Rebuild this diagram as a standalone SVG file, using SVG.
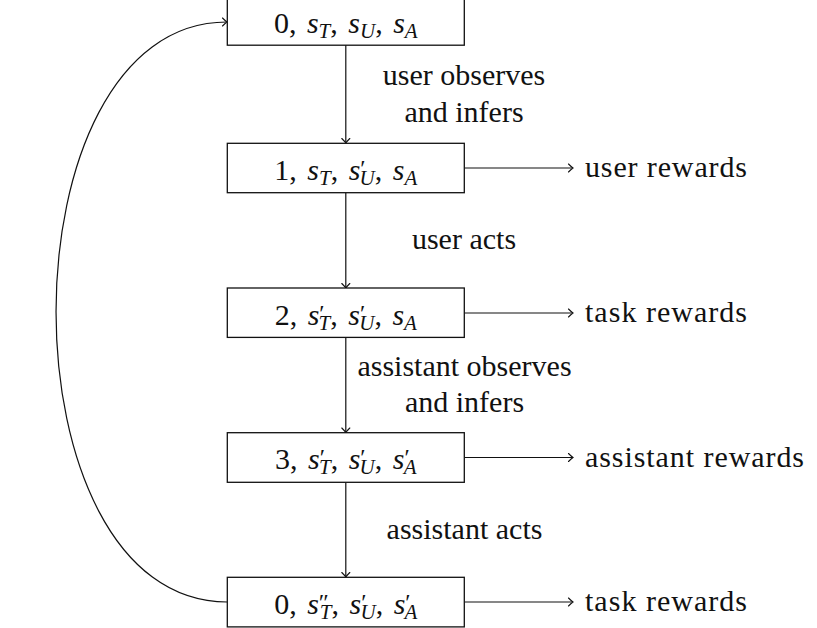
<svg xmlns="http://www.w3.org/2000/svg" width="817" height="628" viewBox="0 0 817 628">
<defs>
<marker id="ah" markerWidth="12" markerHeight="12" viewBox="-6 -6 12 12" refX="0" refY="0" orient="auto" markerUnits="userSpaceOnUse">
<path d="M-4.5,-4 Q-1.5,-1 0,0 Q-1.5,1 -4.5,4" fill="none" stroke="#111" stroke-width="1.1" stroke-linecap="round"/>
</marker>
</defs>
<style>
.box{fill:#fff;stroke:#111;stroke-width:1.3}
.ln{fill:none;stroke:#111;stroke-width:1.2;marker-end:url(#ah)}
text{font-family:"Liberation Serif","Times New Roman",serif;font-size:30px;fill:#111}
.lab{text-anchor:middle}
.m{text-anchor:middle}
.i{font-style:italic}
.sb{font-style:italic;font-size:21px}
.pr{font-size:24px}
</style>
<rect width="817" height="628" fill="#fff"/>
<g id="connectors">
<line class="ln" x1="345.8" y1="45" x2="345.8" y2="143"/>
<line class="ln" x1="345.8" y1="193" x2="345.8" y2="288"/>
<line class="ln" x1="345.8" y1="338" x2="345.8" y2="432.5"/>
<line class="ln" x1="345.8" y1="482.5" x2="345.8" y2="577"/>
<line class="ln" x1="464.5" y1="168" x2="573" y2="168"/>
<line class="ln" x1="464.5" y1="313" x2="573" y2="313"/>
<line class="ln" x1="464.5" y1="457.5" x2="573" y2="457.5"/>
<line class="ln" x1="464.5" y1="602" x2="573" y2="602"/>
<path class="ln" d="M227.3,602 C-1,602 -1,22 227,22"/>
<text class="lab" x="464" y="85">user observes</text>
<text class="lab" x="464" y="122">and infers</text>
<text class="lab" x="464" y="249">user acts</text>
<text class="lab" x="464.5" y="376">assistant observes</text>
<text class="lab" x="464.5" y="412">and infers</text>
<text class="lab" x="464.5" y="539">assistant acts</text>
</g>
<g id="node0">
<rect class="box" x="227.3" y="-1.4" width="237" height="46.6"/>
<text class="m" x="345.8" y="33">0, <tspan class="i" dx="3">s</tspan><tspan class="sb" dy="5">T</tspan><tspan dy="-5">, </tspan><tspan class="i" dx="3">s</tspan><tspan class="sb" dy="5">U</tspan><tspan dy="-5">, </tspan><tspan class="i" dx="3">s</tspan><tspan class="sb" dy="5">A</tspan></text>
</g>
<g id="node1">
<rect class="box" x="227.3" y="143.3" width="237" height="49.4"/>
<text class="m" x="345.8" y="180">1, <tspan class="i" dx="3">s</tspan><tspan class="sb" dy="5">T</tspan><tspan dy="-5">, </tspan><tspan class="i" dx="3">s</tspan><tspan class="pr" dy="-4">′</tspan><tspan class="sb" dx="-6" dy="9">U</tspan><tspan dy="-5">, </tspan><tspan class="i" dx="3">s</tspan><tspan class="sb" dy="5">A</tspan></text>
</g>
<g id="node2">
<rect class="box" x="227.3" y="288" width="237" height="49.4"/>
<text class="m" x="345.8" y="324.5">2, <tspan class="i" dx="3">s</tspan><tspan class="pr" dy="-4">′</tspan><tspan class="sb" dx="-6" dy="9">T</tspan><tspan dy="-5">, </tspan><tspan class="i" dx="3">s</tspan><tspan class="pr" dy="-4">′</tspan><tspan class="sb" dx="-6" dy="9">U</tspan><tspan dy="-5">, </tspan><tspan class="i" dx="3">s</tspan><tspan class="sb" dy="5">A</tspan></text>
</g>
<g id="node3">
<rect class="box" x="227.3" y="432.7" width="237" height="49.6"/>
<text class="m" x="345.8" y="469">3, <tspan class="i" dx="3">s</tspan><tspan class="pr" dy="-4">′</tspan><tspan class="sb" dx="-6" dy="9">T</tspan><tspan dy="-5">, </tspan><tspan class="i" dx="3">s</tspan><tspan class="pr" dy="-4">′</tspan><tspan class="sb" dx="-6" dy="9">U</tspan><tspan dy="-5">, </tspan><tspan class="i" dx="3">s</tspan><tspan class="pr" dy="-4">′</tspan><tspan class="sb" dx="-6" dy="9">A</tspan></text>
</g>
<g id="node4">
<rect class="box" x="227.3" y="577.3" width="237" height="49.6"/>
<text class="m" x="345.8" y="613.5">0, <tspan class="i" dx="3">s</tspan><tspan class="pr" dy="-4">″</tspan><tspan class="sb" dx="-9" dy="9">T</tspan><tspan dy="-5">, </tspan><tspan class="i" dx="3">s</tspan><tspan class="pr" dy="-4">′</tspan><tspan class="sb" dx="-6" dy="9">U</tspan><tspan dy="-5">, </tspan><tspan class="i" dx="3">s</tspan><tspan class="pr" dy="-4">′</tspan><tspan class="sb" dx="-6" dy="9">A</tspan></text>
</g>
<g id="out1"><text x="585" y="177" textLength="162" lengthAdjust="spacing">user rewards</text></g>
<g id="out2"><text x="585" y="322" textLength="162" lengthAdjust="spacing">task rewards</text></g>
<g id="out3"><text x="585" y="466.5" textLength="219" lengthAdjust="spacing">assistant rewards</text></g>
<g id="out4"><text x="585" y="611" textLength="162" lengthAdjust="spacing">task rewards</text></g>
</svg>
